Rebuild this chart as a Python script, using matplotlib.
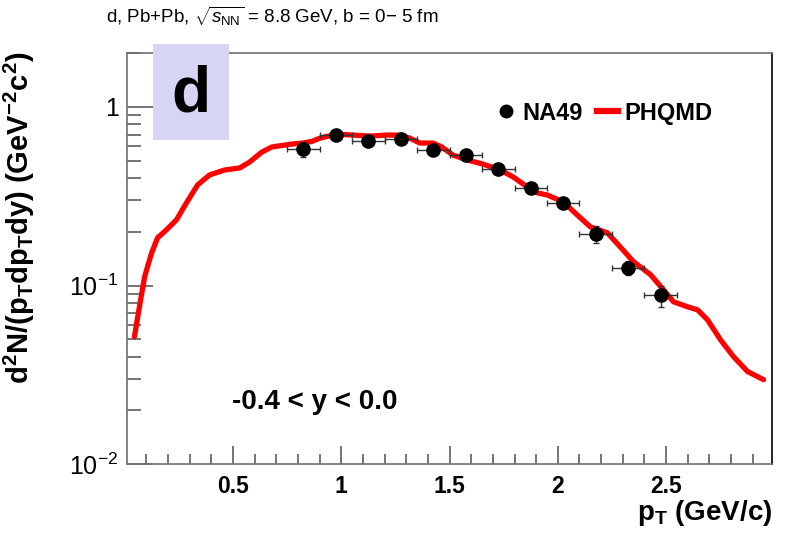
import numpy as np
import matplotlib.pyplot as plt
from matplotlib.patches import Rectangle
from matplotlib.lines import Line2D
from matplotlib.ticker import FixedLocator, LogLocator, NullFormatter

plt.rcParams['font.family'] = ['Liberation Sans', 'DejaVu Sans']
plt.rcParams['mathtext.fontset'] = 'custom'
plt.rcParams['mathtext.rm'] = 'Liberation Sans'
plt.rcParams['mathtext.it'] = 'Liberation Sans:italic'
plt.rcParams['mathtext.bf'] = 'Liberation Sans:bold'

# NA49 deuteron spectrum, Pb+Pb 8.8 GeV, b = 0-5 fm
na49_pt = [0.825, 0.975, 1.125, 1.275, 1.425, 1.575, 1.725, 1.875, 2.025, 2.175, 2.325, 2.475]
na49_y = [0.58, 0.70, 0.64, 0.66, 0.575, 0.54, 0.45, 0.352, 0.29, 0.193, 0.126, 0.088]
na49_yerr = [0.055, 0.04, 0.035, 0.035, 0.03, 0.028, 0.022, 0.017, 0.014, 0.021, 0.012, 0.012]
na49_xerr = [0.075] * len(na49_pt)

# PHQMD curve
phqmd_pt = [0.045, 0.068, 0.092, 0.124, 0.152, 0.193, 0.239, 0.285, 0.337, 0.392,
            0.461, 0.531, 0.577, 0.633, 0.679, 0.771, 0.822, 0.864, 0.901, 0.979,
            1.053, 1.132, 1.211, 1.271, 1.317, 1.363, 1.424, 1.465, 1.516, 1.581,
            1.655, 1.734, 1.794, 1.859, 1.905, 1.951, 2.025, 2.090, 2.150, 2.229,
            2.289, 2.349, 2.428, 2.488, 2.534, 2.599, 2.645, 2.691, 2.751, 2.811,
            2.876, 2.950]
phqmd_y = [0.0517, 0.076, 0.112, 0.152, 0.185, 0.205, 0.233, 0.290, 0.366, 0.416,
           0.443, 0.455, 0.491, 0.558, 0.596, 0.619, 0.627, 0.640, 0.668, 0.704,
           0.695, 0.686, 0.695, 0.695, 0.668, 0.627, 0.627, 0.595, 0.537, 0.504,
           0.478, 0.443, 0.405, 0.356, 0.330, 0.321, 0.294, 0.248, 0.213, 0.197,
           0.164, 0.136, 0.115, 0.0946, 0.0811, 0.0760, 0.0731, 0.0643, 0.0497, 0.0400,
           0.0330, 0.0297]

fig = plt.figure(figsize=(7.88, 5.36), dpi=100)
ax = fig.add_axes([0.161, 0.134, 0.819, 0.767])

ax.plot(phqmd_pt, phqmd_y, color='#ff0000', lw=3.8, solid_capstyle='round',
        solid_joinstyle='round', zorder=2)
ax.errorbar(na49_pt, na49_y, xerr=na49_xerr, yerr=na49_yerr, fmt='o', color='black',
            ms=9.5, ecolor='#333333', elinewidth=1.0, capsize=2.5, capthick=1.0, zorder=3)

ax.set_yscale('log')
ax.set_xlim(0.01, 2.99)
ax.set_ylim(0.01, 2.0)

# ROOT-like frame and ticks
for side in ['left', 'top', 'bottom']:
    ax.spines[side].set_color('#707070')
    ax.spines[side].set_linewidth(1.2)
ax.spines['right'].set_color('black')
ax.spines['right'].set_linewidth(1.2)

ax.xaxis.set_major_locator(FixedLocator([0.5, 1.0, 1.5, 2.0, 2.5]))
ax.xaxis.set_minor_locator(FixedLocator(np.arange(0.1, 3.0, 0.1)))
ax.set_xticklabels(['0.5', '1', '1.5', '2', '2.5'], fontweight='bold')
ax.yaxis.set_major_locator(FixedLocator([0.01, 0.1, 1.0]))
ax.yaxis.set_minor_locator(LogLocator(base=10, subs=np.arange(2, 10)))
ax.yaxis.set_minor_formatter(NullFormatter())
ax.set_yticklabels([r'$10^{-2}$', r'$10^{-1}$', '1'])

ax.tick_params(axis='x', which='major', direction='in', length=13, width=1.1,
               color='#505050', labelsize=16.5, pad=8, top=False)
ax.tick_params(axis='x', which='minor', direction='in', length=7, width=1.1,
               color='#505050', top=False)
ax.tick_params(axis='y', which='major', direction='in', length=19, width=1.1,
               color='#505050', labelsize=18, pad=6, right=False)
ax.tick_params(axis='y', which='minor', direction='in', length=10, width=1.1,
               color='#505050', right=False)

ax.set_xlabel(r'p$_{\mathbf{T}}$ (GeV/c)', fontsize=20, fontweight='bold',
              loc='right', labelpad=0)
ax.set_ylabel(r'd$^{\mathbf{2}}$N/(p$_{\mathbf{T}}$dp$_{\mathbf{T}}$dy) (GeV$^{\mathbf{-2}}$c$^{\mathbf{2}}$)',
              fontsize=21, fontweight='bold')
ax.yaxis.set_label_coords(-0.14, 0.6)

fig.text(106 / 788, 0.992, r'd, Pb+Pb, $\sqrt{s_{\mathrm{NN}}}$ = 8.8 GeV, b = 0$-$ 5 fm',
         ha='left', va='top', fontsize=13.5)

ax.text(0.163, 0.151, '-0.4 < y < 0.0', transform=ax.transAxes, ha='left', va='center',
        fontsize=20, fontweight='bold')

# panel tag box
fig.patches.append(Rectangle((153 / 788, 1 - 140 / 536), 76 / 788, 96 / 536,
                             transform=fig.transFigure, facecolor='#d6d6f4',
                             edgecolor='none', zorder=10))
fig.text(191 / 788, 1 - 94 / 536, 'd', ha='center', va='center', fontsize=46,
         fontweight='bold', zorder=11)

handles = [Line2D([], [], marker='o', ls='none', color='black', ms=9),
           Line2D([], [], color='#ff0000', lw=4.5)]
leg = ax.legend(handles, ['NA49', 'PHQMD'], loc='center right', bbox_to_anchor=(0.925, 0.854),
                ncol=2, frameon=False, prop={'weight': 'bold', 'size': 17},
                handlelength=0.9, handletextpad=0.25, columnspacing=0.6, borderpad=0)

fig.savefig('out.png', dpi=100)
